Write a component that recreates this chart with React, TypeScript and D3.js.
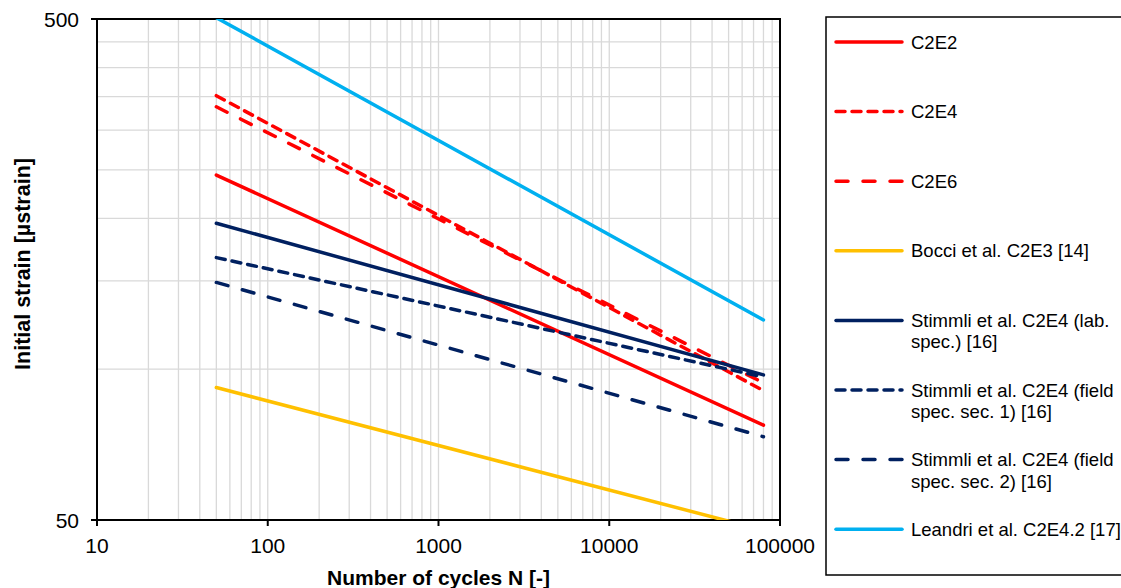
import React from "react";
import * as d3 from "d3";

const cycles = [50, 80000];
const c2e2 = [244, 77.3];
const c2e4 = [351.5, 90.6];
const c2e6 = [334, 93.9];
const bocci = [91.9, 47.7];
const stimmliLab = [195.6, 97.4];
const stimmliField1 = [167, 96.5];
const stimmliField2 = [149, 73.3];
const leandri = [503, 125.4];

const xTicks = [10, 100, 1000, 10000, 100000];
const yTicks = [50, 500];

const seriesNames = [
  ["C2E2"],
  ["C2E4"],
  ["C2E6"],
  ["Bocci et al. C2E3 [14]"],
  ["Stimmli et al. C2E4 (lab.", "spec.) [16]"],
  ["Stimmli et al. C2E4 (field", "spec. sec. 1) [16]"],
  ["Stimmli et al. C2E4 (field", "spec. sec. 2) [16]"],
  ["Leandri et al. C2E4.2 [17]"],
];
const seriesValues = [c2e2, c2e4, c2e6, bocci, stimmliLab, stimmliField1, stimmliField2, leandri];
const seriesColors = ["#FF0000", "#FF0000", "#FF0000", "#FFC000", "#002060", "#002060", "#002060", "#00B0F0"];
const seriesDash = [null, "9,7", "12,15", null, null, "9,7", "12,15", null];

const W = 1121, H = 588;
const L = 97, R = 780, T = 19, B = 520;
const FONT = "'Liberation Sans', Arial, sans-serif";

export default function App() {
  const x = d3.scaleLog().domain([10, 100000]).range([L, R]);
  const y = d3.scaleLog().domain([50, 500]).range([B, T]);
  const line = d3.line<[number, number]>().x(d => x(d[0])).y(d => y(d[1]));

  const xGrid: number[] = [];
  for (const d of [10, 100, 1000, 10000]) for (let k = 1; k <= 9; k++) if (d * k > 10) xGrid.push(d * k);
  const yGrid: number[] = [];
  for (let k = 2; k <= 9; k++) yGrid.push(50 * k);

  const legendX0 = 836, legendX1 = 902, legendTextX = 911, legendY0 = 42, legendStep = 69.6;

  return (
    <svg width={W} height={H} style={{ position: "absolute", left: 0, top: 0 }} fontFamily={FONT}>
      <rect x={0} y={0} width={W} height={H} fill="#fff" />
      <defs>
        <clipPath id="plot">
          <rect x={L} y={T} width={R - L} height={B - T} />
        </clipPath>
      </defs>
      {xGrid.map(v => (
        <line key={"xg" + v} x1={x(v)} x2={x(v)} y1={T} y2={B} stroke="#D9D9D9" strokeWidth={1.3} />
      ))}
      {yGrid.map(v => (
        <line key={"yg" + v} x1={L} x2={R} y1={y(v)} y2={y(v)} stroke="#D9D9D9" strokeWidth={1.3} />
      ))}
      <rect x={L} y={T} width={R - L} height={B - T} fill="none" stroke="#000" strokeWidth={2} />
      {xTicks.map(v => (
        <g key={"xt" + v}>
          <line x1={x(v)} x2={x(v)} y1={B} y2={B + 6} stroke="#000" strokeWidth={2} />
          <text x={x(v)} y={553} textAnchor="middle" fontSize={21} fill="#000">{v}</text>
        </g>
      ))}
      {yTicks.map(v => (
        <g key={"yt" + v}>
          <line x1={L - 6} x2={L} y1={y(v)} y2={y(v)} stroke="#000" strokeWidth={2} />
          <text x={79} y={y(v) + 7.5} textAnchor="end" fontSize={21} fill="#000">{v}</text>
        </g>
      ))}
      <g clipPath="url(#plot)">
        {seriesValues.map((vals, i) => (
          <path
            key={"s" + i}
            d={line(cycles.map((c, j) => [c, vals[j]] as [number, number])) || ""}
            fill="none"
            stroke={seriesColors[i]}
            strokeWidth={3.5}
            strokeDasharray={seriesDash[i] || undefined}
            strokeLinecap="round"
          />
        ))}
      </g>
      <text x={(L + R) / 2} y={585} textAnchor="middle" fontSize={21} fontWeight="bold" fill="#000">
        Number of cycles N [-]
      </text>
      <text
        transform={`translate(30,264) rotate(-90)`}
        textAnchor="middle"
        fontSize={21.5}
        fontWeight="bold"
        fill="#000"
      >
        Initial strain [µstrain]
      </text>
      <rect x={826} y={17} width={400} height={558} fill="none" stroke="#000" strokeWidth={1.5} />
      {seriesNames.map((lines, i) => {
        const ly = legendY0 + legendStep * i;
        return (
          <g key={"lg" + i}>
            <line
              x1={legendX0}
              x2={legendX1}
              y1={ly}
              y2={ly}
              stroke={seriesColors[i]}
              strokeWidth={3.5}
              strokeDasharray={seriesDash[i] || undefined}
              strokeLinecap="round"
            />
            {lines.map((t, k) => (
              <text key={k} x={legendTextX} y={ly + 6.5 + k * 21.5} fontSize={18.5} fill="#000">{t}</text>
            ))}
          </g>
        );
      })}
    </svg>
  );
}
